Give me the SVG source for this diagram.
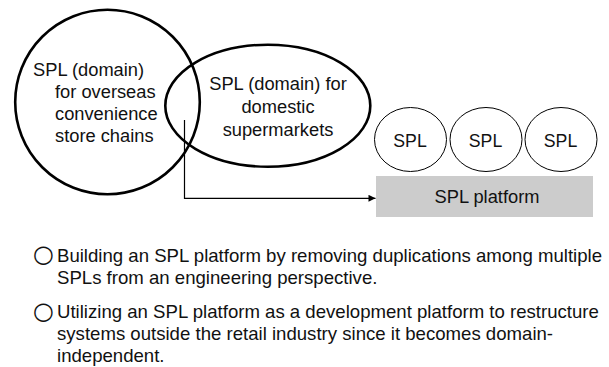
<svg xmlns="http://www.w3.org/2000/svg" width="609" height="367" viewBox="0 0 609 367">
  <defs>
    <marker id="arrow" viewBox="0 0 10 10" refX="10" refY="5" markerWidth="8" markerHeight="7" markerUnits="userSpaceOnUse" orient="auto">
      <path d="M0,0 L10,5 L0,10 z" fill="#000"/>
    </marker>
    <style>
      text { font-family: "Liberation Sans", Arial, Helvetica, sans-serif; fill: #111; }
      .lbl { font-size: 18.3px; }
      .small { font-size: 17.7px; }
      .body { font-size: 18.6px; }
      .bullet { font-family: "DejaVu Sans", sans-serif; font-size: 24px; }
      .domain { fill: none; stroke: #000; stroke-width: 2.6; }
      .spl { fill: #fff; stroke: #000; stroke-width: 1; }
      .conn { fill: none; stroke: #000; stroke-width: 1.2; }
    </style>
  </defs>
  <rect width="609" height="367" fill="#fff"/>

  <!-- domain SPLs -->
  <g id="overseas">
    <circle class="domain" cx="107.5" cy="102" r="92.3"/>
    <text class="lbl" x="33" y="76">SPL (domain)</text>
    <text class="lbl" x="55" y="98">for overseas</text>
    <text class="lbl" x="55" y="120">convenience</text>
    <text class="lbl" x="55" y="142">store chains</text>
  </g>
  <g id="domestic">
    <ellipse class="domain" cx="267.8" cy="105.7" rx="102.5" ry="61"/>
    <text class="lbl" x="278" y="90" text-anchor="middle">SPL (domain) for</text>
    <text class="lbl" x="278" y="113" text-anchor="middle">domestic</text>
    <text class="lbl" x="278" y="136" text-anchor="middle">supermarkets</text>
  </g>

  <!-- connectors -->
  <g id="connectors">
    <path class="conn" d="M184.5,120 V198.3 H375.5" marker-end="url(#arrow)"/>
  </g>

  <!-- platform and SPLs on top -->
  <g id="platform">
    <rect x="376" y="176" width="217" height="41" fill="#cccccc"/>
    <text class="lbl" x="487" y="202.7" text-anchor="middle">SPL platform</text>
  </g>
  <g id="spl1">
    <ellipse class="spl" cx="410.5" cy="139.5" rx="36" ry="32"/>
    <text class="small" x="410" y="146.5" text-anchor="middle">SPL</text>
  </g>
  <g id="spl2">
    <ellipse class="spl" cx="486" cy="139.5" rx="36" ry="32"/>
    <text class="small" x="485.5" y="146.5" text-anchor="middle">SPL</text>
  </g>
  <g id="spl3">
    <ellipse class="spl" cx="561" cy="139.5" rx="36" ry="32"/>
    <text class="small" x="560.5" y="146.5" text-anchor="middle">SPL</text>
  </g>

  <!-- notes -->
  <g id="notes">
    <text class="bullet" x="33" y="262">○</text>
    <text class="body" x="57" y="262">Building an SPL platform by removing duplications among multiple</text>
    <text class="body" x="57" y="284">SPLs from an engineering perspective.</text>
    <text class="bullet" x="33" y="318.5">○</text>
    <text class="body" x="57" y="318">Utilizing an SPL platform as a development platform to restructure</text>
    <text class="body" x="57" y="340">systems outside the retail industry since it becomes domain-</text>
    <text class="body" x="57" y="362">independent.</text>
  </g>
</svg>
